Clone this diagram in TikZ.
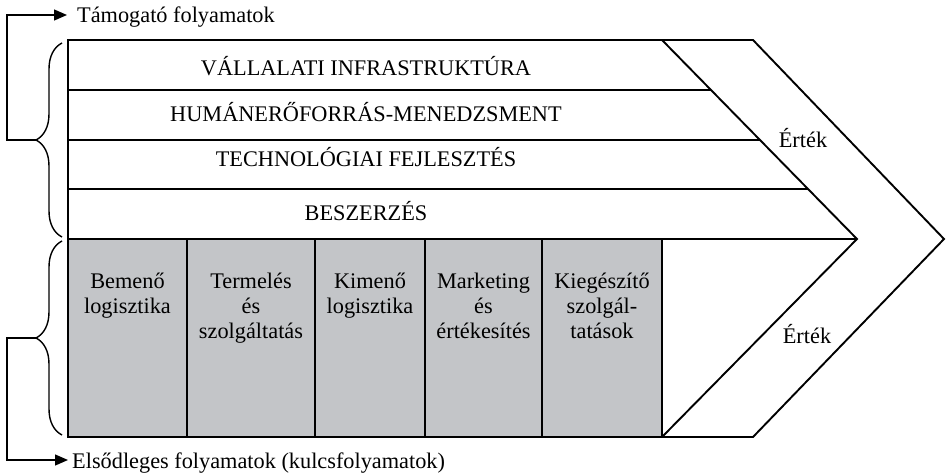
\documentclass[tikz,border=0pt]{standalone}
\usepackage{fontspec}
\setmainfont{Liberation Serif}
\usetikzlibrary{decorations.pathreplacing,arrows.meta}
\definecolor{primgray}{RGB}{195,197,200}
\tikzset{
  frame/.style={line width=1.9pt, line join=miter},
  lbl/.style={font=\fontsize{22.3}{25}\selectfont, inner sep=0pt},
  rowlbl/.style={lbl, anchor=base},
  boxlbl/.style={lbl, align=center, anchor=north},
  brc/.style={decorate, decoration={brace, amplitude=26pt}, line width=1.4pt},
  conn/.style={line width=1.3pt, -{Triangle[length=13pt,width=11pt]}},
}
\begin{document}
\begin{tikzpicture}[x=1pt,y=-1pt]
\useasboundingbox (0,0) rectangle (947,473);
% value chain outline
\draw[frame, fill=white] (68,40) -- (753,40) -- (944,239) -- (753,437) -- (68,437) -- cycle;
% primary activity boxes
\foreach \a/\b in {68/187,187/315,315/425,425/542,542/662}
  \draw[frame, fill=primgray] (\a,239) rectangle (\b,437);
% inner chevron
\draw[frame] (662,40) -- (857,239) -- (662,437);
% support rows
\draw[frame] (68,90) -- (711,90);
\draw[frame] (68,140) -- (760,140);
\draw[frame] (68,189) -- (808,189);
\draw[frame] (68,239) -- (857,239);
% row labels
\node[rowlbl] (infra) at (366,76) {VÁLLALATI INFRASTRUKTÚRA};
\node[rowlbl] (hr) at (366,122) {HUMÁNERŐFORRÁS-MENEDZSMENT};
\node[rowlbl] (tech) at (366,167) {TECHNOLÓGIAI FEJLESZTÉS};
\node[rowlbl] (besz) at (366,220) {BESZERZÉS};
% primary labels
\node[boxlbl] (bem) at (127.5,270.5) {\strut Bemenő\\logisztika};
\node[boxlbl] (term) at (251,270.5) {\strut Termelés\\és\\szolgáltatás};
\node[boxlbl] (kim) at (370,270.5) {\strut Kimenő\\logisztika};
\node[boxlbl] (mark) at (483.5,270.5) {\strut Marketing\\és\\értékesítés};
\node[boxlbl] (kieg) at (602,270.5) {\strut Kiegészítő\\szolgál-\\tatások};
% value labels
\node[rowlbl] (ert1) at (803,148) {Érték};
\node[rowlbl] (ert2) at (807,343) {Érték};
% braces
\draw[brc] (62,237) -- (62,43);
\draw[brc] (62,435) -- (62,241);
\coordinate (t1) at (36,140);
\coordinate (t2) at (36,338);
% side labels
\node[lbl, anchor=base west] (sup) at (77,23) {Támogató folyamatok};
\node[lbl, anchor=base west] (prim) at (72,468) {Elsődleges folyamatok (kulcsfolyamatok)};
\draw[conn] (t1) -- (7,140) |- ([xshift=-10pt,yshift=8pt]sup.base west);
\draw[conn] (t2) -- (7,338) |- ([xshift=-4pt,yshift=8pt]prim.base west);
\end{tikzpicture}
\end{document}
